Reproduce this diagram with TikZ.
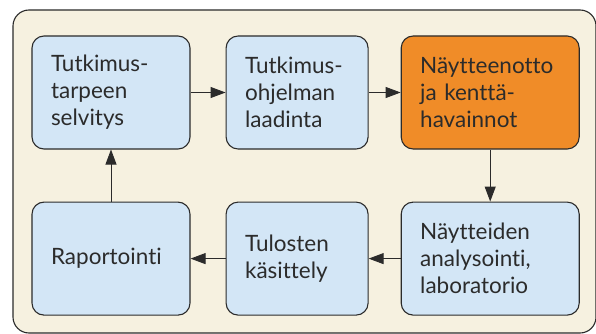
\documentclass[tikz,border=0pt]{standalone}
\usepackage{fontspec}
\setmainfont{Lato}[Ligatures={NoCommon}]
\usetikzlibrary{positioning, arrows.meta}

\definecolor{kehys}{HTML}{F6F1E0}
\definecolor{sininen}{HTML}{D3E6F6}
\definecolor{oranssi}{HTML}{F08C28}
\definecolor{viiva}{HTML}{2B2B2B}

\begin{document}
\begin{tikzpicture}[
    box/.style={draw=viiva, rounded corners=12pt, line width=1.1pt, fill=sininen,
                minimum height=113pt, inner xsep=19pt, align=left,
                font=\fontsize{22.5}{27}\selectfont, text=viiva},
    arr/.style={-{Triangle[length=15pt, width=11pt]}, line width=0.9pt, draw=viiva}]

  % === Background frame ===
  \useasboundingbox (0,0) rectangle (596pt,-334pt);
  \draw[viiva, line width=1.1pt, fill=kehys, rounded corners=16pt]
    (13pt,-10pt) rectangle (596pt,-333pt);

  % === Top row ===
  \node[box, text width=120pt] (tarve) at (111pt,-92.5pt) {Tutkimus-\\tarpeen\\selvitys};
  \node[box, text width=104pt, right=35pt of tarve] (ohjelma) {Tutkimus-\\ohjelman\\laadinta};
  \node[box, text width=140pt, fill=oranssi, right=32pt of ohjelma] (naytteet) {Näytteenotto\\ja kenttä-\\havainnot};

  % === Bottom row ===
  \node[box, text width=120pt, below=52pt of tarve] (raportti) {Raportointi};
  \node[box, text width=104pt, below=52pt of ohjelma] (tulokset) {Tulosten\\käsittely};
  \node[box, text width=140pt, below=52pt of naytteet] (analyysi) {Näytteiden\\analysointi,\\laboratorio};

  % === Arrows ===
  \draw[arr] (tarve) -- (ohjelma);
  \draw[arr] (ohjelma) -- (naytteet);
  \draw[arr] (naytteet) -- (analyysi);
  \draw[arr] (analyysi) -- (tulokset);
  \draw[arr] (tulokset) -- (raportti);
  \draw[arr] (raportti) -- (tarve);

\end{tikzpicture}
\end{document}
